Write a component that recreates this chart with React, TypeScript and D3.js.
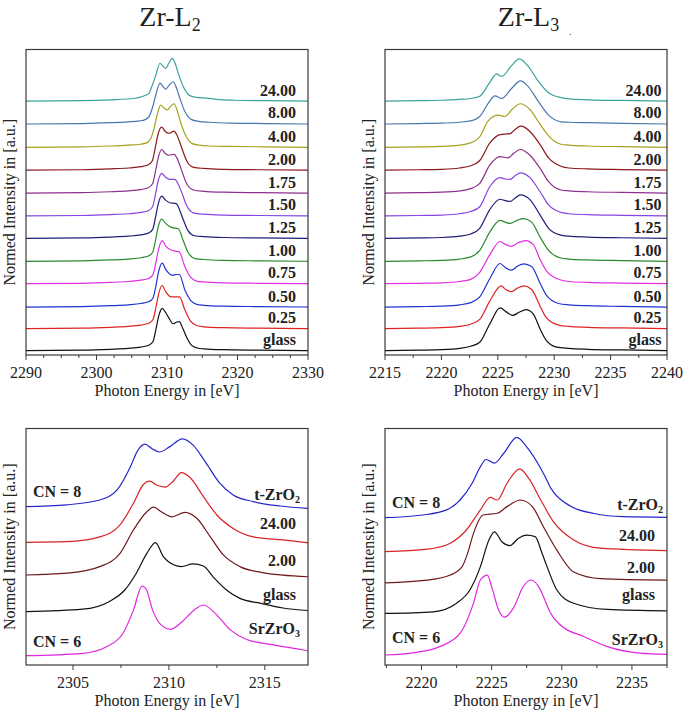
import React from 'react';
import * as d3 from 'd3';

type Pt = [number, number];

// ---------- Top panels: concentration series ----------
const TOP_NAMES = ['glass', '0.25', '0.50', '0.75', '1.00', '1.25', '1.50', '1.75', '2.00', '4.00', '8.00', '24.00'];
const TOP_COLORS = ['#111111', '#e02222', '#2233d0', '#e030e0', '#2a8a2a', '#1e1e78', '#8844e0', '#8e2f8e', '#8b1a1a', '#a6a21e', '#4a78ae', '#3aa39a'];
const TOP_OFFSETS = [0.10, 0.60, 1.09, 1.62, 2.13, 2.65, 3.16, 3.68, 4.20, 4.72, 5.25, 5.77];

const L2_TICKS = [2290, 2300, 2310, 2320, 2330];
const L3_TICKS = [2215, 2220, 2225, 2230, 2235, 2240];
const L2B_TICKS = [2305, 2310, 2315];
const L3B_TICKS = [2220, 2225, 2230, 2235];

// Zr-L2 (top left)
const L2_glass: Pt[] = [[2290,0],[2298,0.01],[2302,0.03],[2304.5,0.05],[2306.3,0.08],[2307.4,0.12],[2308.0,0.20],[2308.45,0.50],[2308.85,0.80],[2309.33,0.96],[2309.75,0.88],[2310.2,0.76],[2310.9,0.61],[2311.4,0.65],[2311.75,0.66],[2312.2,0.52],[2312.8,0.30],[2313.5,0.12],[2314.3,0.06],[2315.2,0.04],[2318,0.02],[2323,0.01],[2330,0]];
const L2_025: Pt[] = [[2290,0],[2298,0.01],[2302,0.03],[2304.5,0.05],[2306.3,0.08],[2307.4,0.12],[2308.0,0.20],[2308.45,0.50],[2308.8,0.78],[2309.33,0.98],[2309.8,0.84],[2310.65,0.72],[2311.2,0.72],[2311.75,0.72],[2312.55,0.42],[2313.35,0.17],[2314.2,0.07],[2315.2,0.04],[2318,0.02],[2323,0.01],[2330,0]];
const L2_050: Pt[] = [[2290,0],[2298,0.01],[2302,0.03],[2304.5,0.05],[2306.3,0.08],[2307.4,0.12],[2308.0,0.20],[2308.45,0.50],[2308.8,0.80],[2309.33,1.00],[2309.8,0.86],[2310.8,0.72],[2311.3,0.74],[2311.75,0.74],[2312.55,0.38],[2313.35,0.15],[2314.2,0.06],[2315.2,0.04],[2318,0.02],[2323,0.01],[2330,0]];
const L2_075: Pt[] = [[2290,0],[2298,0.01],[2302,0.03],[2304.5,0.05],[2306.3,0.08],[2307.4,0.12],[2308.0,0.20],[2308.45,0.50],[2308.8,0.78],[2309.33,0.98],[2309.8,0.86],[2310.65,0.76],[2311.2,0.74],[2311.75,0.72],[2312.55,0.38],[2313.35,0.15],[2314.2,0.06],[2315.2,0.04],[2318,0.02],[2323,0.01],[2330,0]];
const L2_100: Pt[] = [[2290,0],[2298,0.01],[2302,0.03],[2304.5,0.05],[2306.3,0.08],[2307.35,0.12],[2307.95,0.20],[2308.4,0.50],[2308.75,0.78],[2309.25,0.96],[2309.8,0.86],[2310.65,0.77],[2311.6,0.74],[2312.3,0.47],[2313.0,0.20],[2314.0,0.06],[2315.2,0.04],[2318,0.02],[2323,0.01],[2330,0]];
const L2_125: Pt[] = [[2290,0],[2298,0.01],[2302,0.03],[2304.5,0.05],[2306.3,0.08],[2307.35,0.12],[2307.95,0.20],[2308.4,0.50],[2308.75,0.78],[2309.25,0.96],[2309.8,0.87],[2310.4,0.81],[2311.3,0.79],[2312.2,0.47],[2313.0,0.17],[2313.9,0.06],[2315.2,0.04],[2318,0.02],[2323,0.01],[2330,0]];
const L2_150: Pt[] = [[2290,0],[2298,0.01],[2302,0.03],[2304.5,0.05],[2306.3,0.08],[2307.35,0.12],[2307.95,0.21],[2308.4,0.52],[2308.75,0.80],[2309.25,0.97],[2309.8,0.88],[2310.4,0.83],[2311.1,0.83],[2311.5,0.75],[2312.1,0.53],[2312.8,0.23],[2313.75,0.07],[2315.2,0.04],[2318,0.02],[2323,0.01],[2330,0]];
const L2_175: Pt[] = [[2290,0],[2298,0.01],[2302,0.03],[2304.5,0.05],[2306.3,0.08],[2307.35,0.12],[2307.95,0.21],[2308.4,0.52],[2308.75,0.80],[2309.25,0.99],[2309.75,0.90],[2310.3,0.86],[2311.0,0.88],[2311.4,0.80],[2312.0,0.55],[2312.8,0.21],[2313.75,0.07],[2315.2,0.04],[2318,0.02],[2323,0.01],[2330,0]];
const L2_200: Pt[] = [[2290,0],[2298,0.01],[2302,0.03],[2304.5,0.05],[2306.3,0.08],[2307.3,0.12],[2307.9,0.21],[2308.35,0.52],[2308.7,0.80],[2309.25,0.98],[2309.75,0.88],[2310.3,0.84],[2311.0,0.89],[2311.4,0.80],[2312.0,0.55],[2312.8,0.21],[2313.7,0.07],[2315.2,0.04],[2318,0.02],[2323,0.01],[2330,0]];
const L2_400: Pt[] = [[2290,0],[2298,0.01],[2302,0.03],[2304.5,0.05],[2306.2,0.07],[2307.1,0.10],[2307.7,0.20],[2308.15,0.42],[2308.55,0.70],[2309.1,0.96],[2309.55,0.90],[2310.05,0.85],[2310.5,0.93],[2311.0,0.99],[2311.4,0.86],[2311.85,0.61],[2312.55,0.30],[2313.5,0.09],[2314.5,0.05],[2316,0.03],[2319,0.02],[2324,0.01],[2330,0]];
const L2_800: Pt[] = [[2290,0],[2298,0.01],[2302,0.03],[2304.5,0.05],[2306.1,0.07],[2306.9,0.10],[2307.5,0.18],[2307.95,0.38],[2308.4,0.65],[2309.0,0.93],[2309.4,0.86],[2309.8,0.79],[2310.3,0.88],[2310.9,0.96],[2311.3,0.84],[2311.75,0.62],[2312.55,0.28],[2313.5,0.10],[2314.5,0.06],[2316,0.04],[2319,0.02],[2324,0.01],[2330,0]];
const L2_2400: Pt[] = [[2290,0],[2298,0.01],[2302,0.03],[2305.3,0.06],[2306.6,0.11],[2307.4,0.17],[2307.85,0.33],[2308.4,0.58],[2309.0,0.86],[2309.4,0.80],[2309.8,0.74],[2310.25,0.86],[2310.75,0.97],[2311.15,0.86],[2311.6,0.63],[2312.3,0.33],[2313.3,0.12],[2314.5,0.08],[2315.6,0.07],[2317,0.04],[2319.5,0.02],[2324,0.01],[2330,0]];
const L2_SERIES = [L2_glass, L2_025, L2_050, L2_075, L2_100, L2_125, L2_150, L2_175, L2_200, L2_400, L2_800, L2_2400];

// Zr-L3 (top right)
const L3_glass: Pt[] = [[2215,0],[2218,0.01],[2220,0.02],[2221.6,0.05],[2222.6,0.10],[2223.4,0.19],[2224.3,0.61],[2225.2,0.97],[2225.75,0.88],[2226.3,0.80],[2226.9,0.87],[2227.5,0.93],[2228.15,0.83],[2228.75,0.49],[2229.3,0.23],[2230.2,0.08],[2231.3,0.05],[2233,0.03],[2236,0.015],[2240,0]];
const L3_025: Pt[] = [[2215,0],[2218,0.01],[2220,0.02],[2221.6,0.05],[2222.6,0.10],[2223.4,0.21],[2224.3,0.63],[2225.3,0.97],[2225.75,0.88],[2226.2,0.84],[2226.75,0.92],[2227.3,0.97],[2228.0,0.89],[2228.75,0.51],[2229.3,0.25],[2230.4,0.08],[2231.3,0.05],[2233,0.03],[2236,0.015],[2240,0]];
const L3_050: Pt[] = [[2215,0],[2218,0.01],[2220,0.02],[2221.6,0.05],[2222.6,0.10],[2223.4,0.23],[2224.3,0.65],[2225.2,0.99],[2225.7,0.89],[2226.2,0.84],[2226.75,0.93],[2227.3,0.98],[2228.0,0.92],[2228.75,0.54],[2229.3,0.27],[2230.4,0.08],[2231.3,0.05],[2233,0.03],[2236,0.015],[2240,0]];
const L3_075: Pt[] = [[2215,0],[2218,0.01],[2220,0.02],[2221.6,0.05],[2222.6,0.10],[2223.4,0.26],[2224.3,0.66],[2225.2,0.96],[2225.7,0.89],[2226.2,0.85],[2226.8,0.93],[2227.45,0.98],[2228.15,0.89],[2228.75,0.55],[2229.35,0.28],[2230.5,0.09],[2231.3,0.05],[2233,0.03],[2236,0.015],[2240,0]];
const L3_100: Pt[] = [[2215,0],[2218,0.01],[2220,0.02],[2221.6,0.05],[2222.6,0.10],[2223.4,0.25],[2224.3,0.67],[2225.2,0.93],[2225.65,0.89],[2226.1,0.86],[2226.7,0.93],[2227.3,0.97],[2228.0,0.89],[2228.75,0.55],[2229.5,0.25],[2230.5,0.08],[2231.3,0.05],[2233,0.03],[2236,0.015],[2240,0]];
const L3_125: Pt[] = [[2215,0],[2218,0.01],[2220,0.02],[2221.6,0.05],[2222.6,0.10],[2223.4,0.23],[2224.3,0.66],[2225.2,0.89],[2225.65,0.86],[2226.1,0.84],[2226.55,0.92],[2227.0,0.99],[2227.85,0.88],[2228.75,0.53],[2229.5,0.23],[2230.5,0.08],[2231.3,0.05],[2233,0.03],[2236,0.015],[2240,0]];
const L3_150: Pt[] = [[2215,0],[2218,0.01],[2220,0.02],[2221.6,0.05],[2222.6,0.10],[2223.4,0.21],[2224.3,0.67],[2225.2,0.87],[2225.65,0.84],[2226.1,0.83],[2226.55,0.92],[2227.05,0.98],[2227.85,0.87],[2228.75,0.55],[2229.5,0.25],[2230.6,0.08],[2231.3,0.05],[2233,0.03],[2236,0.015],[2240,0]];
const L3_175: Pt[] = [[2215,0],[2218,0.01],[2220,0.02],[2221.6,0.05],[2222.6,0.10],[2223.4,0.22],[2224.3,0.64],[2225.2,0.83],[2225.9,0.80],[2226.45,0.91],[2227.0,0.99],[2227.85,0.86],[2228.75,0.56],[2229.5,0.26],[2230.6,0.07],[2231.3,0.05],[2233,0.03],[2236,0.015],[2240,0]];
const L3_200: Pt[] = [[2215,0],[2218,0.01],[2220,0.02],[2221.6,0.05],[2222.6,0.10],[2223.4,0.22],[2224.3,0.62],[2225.2,0.81],[2226.1,0.83],[2226.55,0.93],[2227.05,1.00],[2227.85,0.88],[2228.75,0.58],[2229.5,0.28],[2230.6,0.09],[2231.3,0.05],[2233,0.03],[2236,0.015],[2240,0]];
const L3_400: Pt[] = [[2215,0],[2218,0.01],[2220,0.02],[2221.6,0.05],[2222.6,0.10],[2223.4,0.24],[2224.15,0.60],[2225.05,0.73],[2225.6,0.70],[2226.3,0.87],[2227.0,0.99],[2227.85,0.86],[2228.75,0.52],[2229.5,0.26],[2230.6,0.07],[2231.3,0.05],[2233,0.03],[2236,0.015],[2240,0]];
const L3_800: Pt[] = [[2215,0],[2218,0.01],[2220,0.02],[2221.6,0.04],[2222.6,0.07],[2223.4,0.17],[2224.15,0.47],[2224.75,0.64],[2225.35,0.58],[2226.2,0.80],[2227.0,0.98],[2227.7,0.85],[2228.6,0.51],[2229.5,0.20],[2230.6,0.05],[2231.3,0.04],[2233,0.03],[2236,0.015],[2240,0]];
const L3_2400: Pt[] = [[2215,0],[2218,0.01],[2220,0.02],[2221.6,0.04],[2222.6,0.06],[2223.4,0.11],[2224.25,0.41],[2224.9,0.62],[2225.35,0.56],[2226.2,0.80],[2226.9,0.96],[2227.7,0.79],[2228.6,0.45],[2229.5,0.19],[2230.6,0.08],[2231.3,0.05],[2233,0.03],[2236,0.015],[2240,0]];
const L3_SERIES = [L3_glass, L3_025, L3_050, L3_075, L3_100, L3_125, L3_150, L3_175, L3_200, L3_400, L3_800, L3_2400];

// ---------- Bottom panels: references ----------
const BOT_NAMES = ['SrZrO3', 'glass', '2.00', '24.00', 't-ZrO2'];
const BOT_COLORS = ['#e026e0', '#111111', '#6e1a1a', '#d82424', '#2424c8'];
const L2B_OFFSETS = [0.155, 0.89, 1.50, 2.045, 2.64];
const L3B_OFFSETS = [0.167, 0.86, 1.37, 1.89, 2.455];

const L2B_Sr: Pt[] = [[2302.5,0],[2305.5,0.04],[2306.75,0.15],[2307.6,0.37],[2308.15,0.76],[2308.6,1.16],[2308.8,1.12],[2309.15,0.76],[2309.6,0.51],[2310.1,0.44],[2310.7,0.57],[2311.35,0.77],[2311.8,0.845],[2312.4,0.71],[2313.2,0.43],[2314.05,0.27],[2315.45,0.18],[2317.3,0.08]];
const L2B_glass: Pt[] = [[2302.5,0],[2305.5,0.04],[2306.9,0.17],[2307.7,0.36],[2308.3,0.64],[2308.85,0.97],[2309.3,1.15],[2309.7,0.92],[2310.25,0.78],[2310.65,0.75],[2311.25,0.795],[2311.8,0.76],[2312.3,0.58],[2313.0,0.36],[2313.7,0.22],[2314.75,0.14],[2315.95,0.06],[2317.3,0.017]];
const L2B_200: Pt[] = [[2302.5,0],[2304.7,0.03],[2306.4,0.14],[2307.45,0.36],[2308.15,0.75],[2308.85,1.055],[2309.2,1.13],[2309.6,1.055],[2310.15,0.97],[2310.85,1.045],[2311.45,0.945],[2312.15,0.64],[2312.85,0.33],[2313.7,0.14],[2314.8,0.045],[2317.3,-0.03]];
const L2B_2400: Pt[] = [[2302.5,0],[2304.67,0.01],[2306.4,0.09],[2307.45,0.29],[2308.15,0.65],[2308.65,0.955],[2309.0,1.02],[2309.35,0.955],[2309.8,0.92],[2310.2,1.01],[2310.65,1.16],[2311.1,1.08],[2311.8,0.76],[2312.5,0.455],[2313.35,0.23],[2314.4,0.09],[2315.95,0.04],[2317.3,-0.01]];
const L2B_tZr: Pt[] = [[2302.5,0],[2304.67,0.03],[2306.4,0.11],[2307.3,0.28],[2308.0,0.67],[2308.35,0.92],[2308.75,1.04],[2309.1,0.97],[2309.5,0.91],[2310.05,1.0],[2310.7,1.13],[2311.25,1.03],[2311.95,0.72],[2312.65,0.39],[2313.35,0.195],[2314.4,0.083],[2315.8,0.01],[2317.3,-0.03]];
const L2B_SERIES = [L2B_Sr, L2B_glass, L2B_200, L2B_2400, L2B_tZr];

const L3B_Sr: Pt[] = [[2217.4,0],[2219.5,0.04],[2221.3,0.14],[2222.75,0.36],[2223.7,0.86],[2224.2,1.25],[2224.7,1.33],[2225.0,1.14],[2225.5,0.75],[2225.9,0.63],[2226.55,0.78],[2227.25,1.14],[2227.8,1.25],[2228.35,1.14],[2229.0,0.8],[2229.15,0.72],[2229.9,0.5],[2231.6,0.305],[2233.25,0.14],[2235.6,0.03],[2237.5,0.01]];
const L3B_glass: Pt[] = [[2217.4,0],[2220.85,0.027],[2222.5,0.17],[2223.45,0.39],[2224.2,0.78],[2224.8,1.22],[2225.2,1.36],[2225.75,1.19],[2226.3,1.13],[2226.9,1.25],[2227.5,1.305],[2228.1,1.28],[2228.6,1.0],[2228.95,0.78],[2229.65,0.39],[2230.85,0.17],[2233.25,0.067],[2237.5,0.043]];
const L3B_200: Pt[] = [[2217.4,0],[2220.4,0.045],[2222.05,0.13],[2222.9,0.27],[2223.3,0.5],[2223.7,0.82],[2224.4,1.13],[2225.4,1.16],[2226.1,1.27],[2227.05,1.38],[2227.9,1.27],[2228.7,0.93],[2229.65,0.545],[2230.85,0.18],[2232.75,0.07],[2237.5,0.045]];
const L3B_2400: Pt[] = [[2217.4,0],[2220.4,0.04],[2222.05,0.14],[2223.2,0.36],[2224.2,0.695],[2224.9,0.905],[2225.4,0.86],[2226.1,1.14],[2227.0,1.38],[2227.65,1.22],[2228.5,0.86],[2229.4,0.5],[2230.85,0.195],[2232.75,0.057],[2237.5,0.017]];
const L3B_tZr: Pt[] = [[2217.4,0],[2220.1,0.045],[2221.8,0.13],[2222.75,0.295],[2223.6,0.57],[2224.2,0.85],[2224.6,0.97],[2225.2,0.91],[2225.85,1.07],[2226.8,1.34],[2227.5,1.18],[2228.5,0.82],[2228.95,0.62],[2229.15,0.52],[2229.4,0.43],[2230.6,0.195],[2232.3,0.07],[2234.4,0.017],[2237.5,0.007]];
const L3B_SERIES = [L3B_Sr, L3B_glass, L3B_200, L3B_2400, L3B_tZr];

const FONT = 'Liberation Serif';

interface Lbl { text: string; sub?: string; x: 'left' | 'right'; pad: number; idx: number; dy: number; }

interface PanelProps {
  id: string;
  x0: number; x1: number; y0: number; y1: number;
  xDomain: [number, number]; yDomain: [number, number];
  ticks: number[]; minorStep: number;
  series: Pt[][]; colors: string[]; offsets: number[];
  labels: Lbl[];
}

function Panel(p: PanelProps) {
  const xs = d3.scaleLinear().domain(p.xDomain).range([p.x0, p.x1]);
  const ys = d3.scaleLinear().domain(p.yDomain).range([p.y1, p.y0]);
  const minor = d3.range(Math.ceil(p.xDomain[0] / p.minorStep) * p.minorStep, p.xDomain[1] + 1e-9, p.minorStep)
    .filter(v => !p.ticks.some(t => Math.abs(t - v) < 1e-6));
  const cx = (p.x0 + p.x1) / 2;
  return (
    <g>
      <defs>
        <clipPath id={p.id}><rect x={p.x0} y={p.y0} width={p.x1 - p.x0} height={p.y1 - p.y0} /></clipPath>
      </defs>
      <g clipPath={`url(#${p.id})`}>
        {p.series.map((s, i) => {
          const line = d3.line<Pt>().x(d => xs(d[0])).y(d => ys(d[1] + p.offsets[i])).curve(d3.curveMonotoneX);
          return <path key={i} d={line(s) || ''} fill="none" stroke={p.colors[i]} strokeWidth={1.2} strokeLinejoin="round" />;
        })}
      </g>
      <rect x={p.x0} y={p.y0} width={p.x1 - p.x0} height={p.y1 - p.y0} fill="none" stroke="#3a3a3a" strokeWidth={1.2} />
      {p.ticks.map(t => (
        <g key={t}>
          <line x1={xs(t)} x2={xs(t)} y1={p.y1} y2={p.y1 + 5} stroke="#3a3a3a" strokeWidth={1} />
          <text x={xs(t)} y={p.y1 + 22.5} textAnchor="middle" fontSize={16}>{t}</text>
        </g>
      ))}
      {minor.map(t => (
        <line key={'m' + t} x1={xs(t)} x2={xs(t)} y1={p.y1} y2={p.y1 + 3} stroke="#3a3a3a" strokeWidth={1} />
      ))}
      <text x={cx} y={p.y1 + 41} textAnchor="middle" fontSize={16}>Photon Energy in [eV]</text>
      <text transform={`translate(${p.x0 - 11},${(p.y0 + p.y1) / 2}) rotate(-90)`} textAnchor="middle" fontSize={16}>Normed Intensity in [a.u.]</text>
      {p.labels.map((l, k) => {
        const y = ys(p.offsets[l.idx]) + l.dy;
        const x = l.x === 'right' ? p.x1 - l.pad : p.x0 + l.pad;
        return (
          <text key={k} x={x} y={y} textAnchor={l.x === 'right' ? 'end' : 'start'} fontSize={16} fontWeight="bold">
            {l.text}{l.sub ? <tspan fontSize={10} dy={3}>{l.sub}</tspan> : null}
          </text>
        );
      })}
    </g>
  );
}

export default function App() {
  const topLabels: Lbl[] = TOP_NAMES.map((n, i) => ({ text: n, x: 'right', pad: 12, idx: i, dy: -5.5 }));
  const topLabelsR: Lbl[] = TOP_NAMES.map((n, i) => ({ text: n, x: 'right', pad: 5.5, idx: i, dy: -5.5 }));
  const botLabelsL: Lbl[] = [
    { text: 't-ZrO', sub: '2', x: 'right', pad: 8, idx: 4, dy: -6.7 },
    { text: '24.00', x: 'right', pad: 12, idx: 3, dy: -13 },
    { text: '2.00', x: 'right', pad: 12, idx: 2, dy: -9.3 },
    { text: 'glass', x: 'right', pad: 12, idx: 1, dy: -11.7 },
    { text: 'SrZrO', sub: '3', x: 'right', pad: 8, idx: 0, dy: -22 },
    { text: 'CN = 8', x: 'left', pad: 7, idx: 4, dy: -10 },
    { text: 'CN = 6', x: 'left', pad: 7, idx: 0, dy: -8.7 },
  ];
  const botLabelsR: Lbl[] = [
    { text: 't-ZrO', sub: '2', x: 'right', pad: 4, idx: 4, dy: -7.7 },
    { text: '24.00', x: 'right', pad: 12, idx: 3, dy: -10.7 },
    { text: '2.00', x: 'right', pad: 12, idx: 2, dy: -9.4 },
    { text: 'glass', x: 'right', pad: 12, idx: 1, dy: -13.3 },
    { text: 'SrZrO', sub: '3', x: 'right', pad: 4, idx: 0, dy: -10 },
    { text: 'CN = 8', x: 'left', pad: 7, idx: 4, dy: -9.4 },
    { text: 'CN = 6', x: 'left', pad: 7, idx: 0, dy: -12.3 },
  ];
  return (
    <svg width={685} height={712} fontFamily={FONT} fill="#222"
      style={{ position: 'absolute', left: 0, top: 0, background: '#fff', fontFamily: 'Liberation Serif, serif' }}>
      <rect width={685} height={712} fill="#fff" />
      <text x={170} y={26} textAnchor="middle" fontSize={28}>Zr-L<tspan fontSize={18} dy={5}>2</tspan></text>
      <text x={528.5} y={26} textAnchor="middle" fontSize={28}>Zr-L<tspan fontSize={18} dy={5}>3</tspan></text>
      <text x={569} y={35} fontSize={10} fill="#444">.</text>
      <Panel id="c1" x0={26} x1={308} y0={49.5} y1={355} xDomain={[2290, 2330]} yDomain={[0, 6.943]}
        ticks={L2_TICKS} minorStep={2.5} series={L2_SERIES} colors={TOP_COLORS} offsets={TOP_OFFSETS} labels={topLabels} />
      <Panel id="c2" x0={385} x1={667} y0={49.5} y1={355} xDomain={[2215, 2240]} yDomain={[0, 6.943]}
        ticks={L3_TICKS} minorStep={2.5} series={L3_SERIES} colors={TOP_COLORS} offsets={TOP_OFFSETS} labels={topLabelsR} />
      <Panel id="c3" x0={26} x1={308} y0={428.5} y1={665} xDomain={[2302.55, 2317.25]} yDomain={[0, 3.942]}
        ticks={L2B_TICKS} minorStep={2.5} series={L2B_SERIES} colors={BOT_COLORS} offsets={L2B_OFFSETS} labels={botLabelsL} />
      <Panel id="c4" x0={385} x1={667} y0={428.5} y1={665} xDomain={[2217.4, 2237.5]} yDomain={[0, 3.942]}
        ticks={L3B_TICKS} minorStep={2.5} series={L3B_SERIES} colors={BOT_COLORS} offsets={L3B_OFFSETS} labels={botLabelsR} />
    </svg>
  );
}
